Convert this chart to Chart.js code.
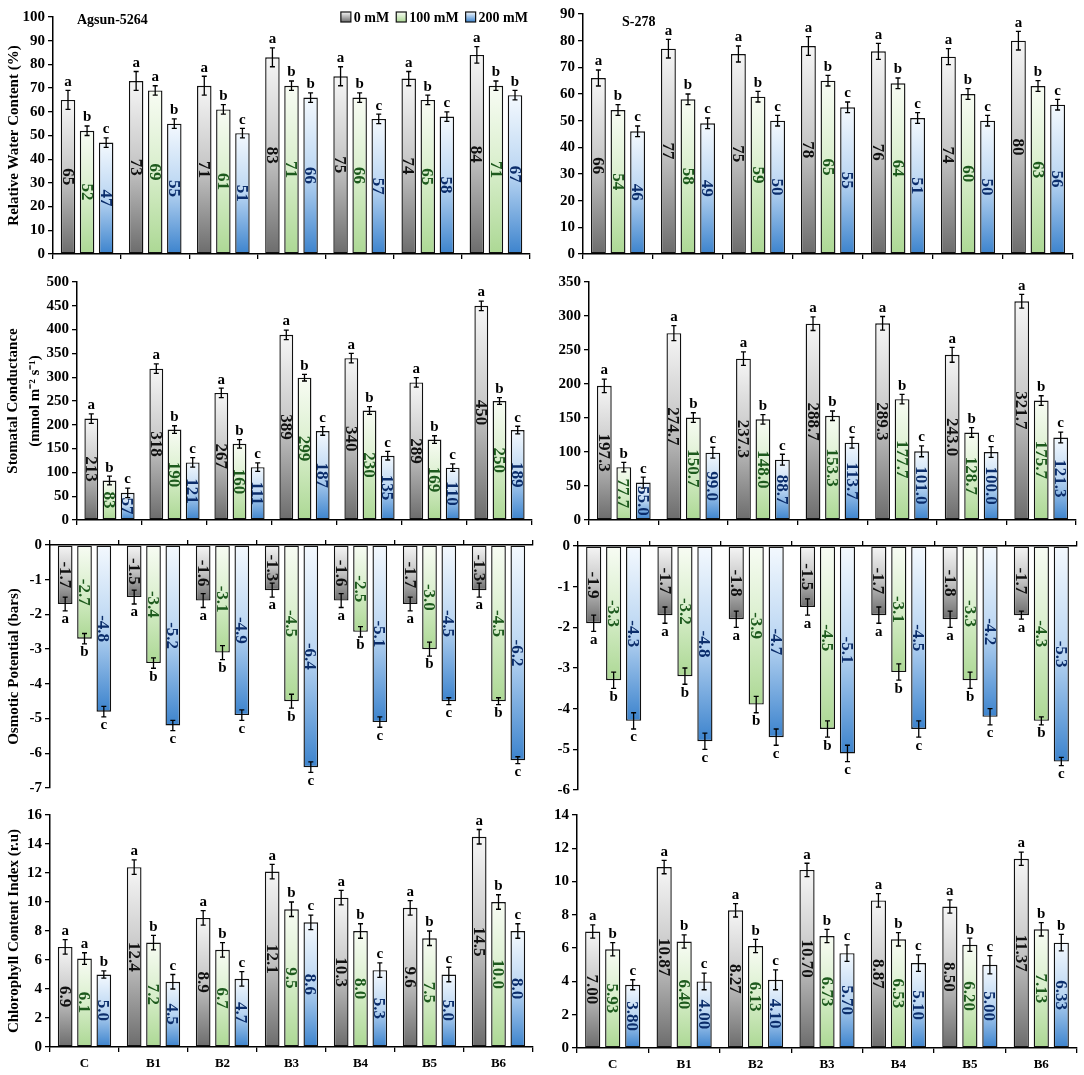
<!DOCTYPE html>
<html><head><meta charset="utf-8">
<script src="https://cdn.jsdelivr.net/npm/chart.js@4.4.1/dist/chart.umd.min.js"></script>
<style>
html,body{margin:0;padding:0;background:#fff;}
body{width:1084px;height:1075px;position:relative;overflow:hidden;}
.box{position:absolute;}
</style></head><body>
<script>
// ---------- DATA ----------
const categories = ['C','B1','B2','B3','B4','B5','B6'];
const seriesNames = ['0 mM','100 mM','200 mM'];

// Relative Water Content (%) - Agsun-5264
const rwcA0 = [65,73,71,83,75,74,84];
const rwcA100 = [52,69,61,71,66,65,71];
const rwcA200 = [47,55,51,66,57,58,67];
const rwcAErr0 = [4,4,4,4,4,3,3.5];
const rwcAErr100 = [2,2,2,2,2,2,2];
const rwcAErr200 = [2,2,2,2,2,2,2];
const rwcALetters = ['abc','aab','abc','abb','abc','abc','abb'];

// Relative Water Content (%) - S-278
const rwcS0 = [66,77,75,78,76,74,80];
const rwcS100 = [54,58,59,65,64,60,63];
const rwcS200 = [46,49,50,55,51,50,56];
const rwcSErr0 = [3,3.5,3,3.5,3,3,3.5];
const rwcSErr100 = [2,2,2,2,2,2,2];
const rwcSErr200 = [2,2,2,2,2,2,2];
const rwcSLetters = ['abc','abc','abc','abc','abc','abc','abc'];

// Stomatal Conductance - Agsun-5264
const scA0 = [213,318,267,389,340,289,450];
const scA100 = [83,190,160,299,230,169,250];
const scA200 = [57,121,111,187,135,110,189];
const scAErr0 = [10,10,10,10,10,10,10];
const scAErr100 = [9,8,9,7,8,8,7];
const scAErr200 = [10,10,9,9,9,8,8];
const scALetters = ['abc','abc','abc','abc','abc','abc','abc'];

// Stomatal Conductance - S-278
const scS0 = [197.3,274.7,237.3,288.7,289.3,243.0,321.7];
const scS100 = [77.7,150.7,148.0,153.3,177.7,128.7,175.7];
const scS200 = [55.0,99.0,88.7,113.7,101.0,100.0,121.3];
const scSErr0 = [10,11,10,10,10,11,10];
const scSErr100 = [7,7,7,7,7,7,7];
const scSErr200 = [8,8,8,8,8,8,8];
const scSLetters = ['abc','abc','abc','abc','abc','abc','abc'];

// Osmotic Potential (bars) - Agsun-5264
const opA0 = [-1.7,-1.5,-1.6,-1.3,-1.6,-1.7,-1.3];
const opA100 = [-2.7,-3.4,-3.1,-4.5,-2.5,-3.0,-4.5];
const opA200 = [-4.8,-5.2,-4.9,-6.4,-5.1,-4.5,-6.2];
const opAErr0 = [0.2,0.2,0.2,0.2,0.2,0.2,0.2];
const opAErr100 = [0.15,0.15,0.2,0.2,0.15,0.2,0.1];
const opAErr200 = [0.15,0.15,0.15,0.15,0.15,0.1,0.1];
const opALetters = ['abc','abc','abc','abc','abc','abc','abc'];

// Osmotic Potential (bars) - S-278
const opS0 = [-1.9,-1.7,-1.8,-1.5,-1.7,-1.8,-1.7];
const opS100 = [-3.3,-3.2,-3.9,-4.5,-3.1,-3.3,-4.3];
const opS200 = [-4.3,-4.8,-4.7,-5.1,-4.5,-4.2,-5.3];
const opSErr0 = [0.2,0.2,0.2,0.2,0.2,0.2,0.1];
const opSErr100 = [0.2,0.2,0.2,0.2,0.2,0.2,0.1];
const opSErr200 = [0.2,0.2,0.2,0.2,0.2,0.2,0.1];
const opSLetters = ['abc','abc','abc','abc','abc','abc','abc'];

// Chlorophyll Content Index (r.u) - Agsun-5264
const cciA0 = [6.9,12.4,8.9,12.1,10.3,9.6,14.5];
const cciA100 = [6.1,7.2,6.7,9.5,8.0,7.5,10.0];
const cciA200 = [5.0,4.5,4.7,8.6,5.3,5.0,8.0];
const cciAErr0 = [0.5,0.5,0.5,0.5,0.5,0.5,0.5];
const cciAErr100 = [0.4,0.5,0.5,0.5,0.5,0.5,0.5];
const cciAErr200 = [0.25,0.5,0.5,0.5,0.5,0.5,0.5];
const cciALetters = ['aab','abc','abc','abc','abc','abc','abc'];

// Chlorophyll Content Index (r.u) - S-278
const cciS0 = [7.00,10.87,8.27,10.70,8.87,8.50,11.37];
const cciS100 = [5.93,6.40,6.13,6.73,6.53,6.20,7.13];
const cciS200 = [3.80,4.00,4.10,5.70,5.10,5.00,6.33];
const cciSErr0 = [0.4,0.4,0.4,0.4,0.4,0.4,0.4];
const cciSErr100 = [0.4,0.4,0.4,0.4,0.4,0.4,0.4];
const cciSErr200 = [0.3,0.5,0.6,0.5,0.5,0.55,0.5];
const cciSLetters = ['abc','abc','abc','abc','abc','abc','abb'];

// ---------- STYLE ----------
const FAMILY = '"Liberation Serif", "Times New Roman", serif';
const gradStops = [['#f6f6f6','#c4c4c4','#6c6c6c'], ['#f8fcf4','#d8eecb','#acd894'], ['#f4f9fe','#b9d5f2','#3c83cd']];
const labelColors = ['#111111', '#1d5a1d', '#0b2d6b'];

function gradFill(k) {
  return (ctx) => {
    const ch = ctx.chart;
    if (!ch.chartArea || ctx.type !== 'data') return gradStops[k][2];
    const y = ch.scales.y; const v = ctx.raw;
    const a = y.getPixelForValue(Math.max(v, 0));
    const b = y.getPixelForValue(Math.min(v, 0));
    const g = ch.ctx.createLinearGradient(0, a, 0, b);
    g.addColorStop(0, gradStops[k][0]);
    g.addColorStop(0.5, gradStops[k][1]);
    g.addColorStop(1, gradStops[k][2]);
    return g;
  };
}

const decor = {
  id: 'decor',
  afterDatasetsDraw(chart, args, opts) {
    const c = chart.ctx, y = chart.scales.y;
    chart.data.datasets.forEach((ds, k) => {
      const meta = chart.getDatasetMeta(k);
      meta.data.forEach((bar, i) => {
        const v = ds.data[i], e = opts.errors[k][i];
        const p1 = y.getPixelForValue(v + e), p2 = y.getPixelForValue(v - e);
        const top = Math.min(p1, p2), bot = Math.max(p1, p2);
        c.save();
        c.strokeStyle = '#000'; c.lineWidth = 1.3;
        c.beginPath();
        c.moveTo(bar.x, top); c.lineTo(bar.x, bot);
        c.moveTo(bar.x - 2.5, top); c.lineTo(bar.x + 2.5, top);
        c.moveTo(bar.x - 2.5, bot); c.lineTo(bar.x + 2.5, bot);
        c.stroke();
        const letter = opts.letters[i][k];
        c.fillStyle = '#000'; c.font = 'bold 15px ' + FAMILY; c.textAlign = 'center';
        if (v >= 0) { c.textBaseline = 'bottom'; c.fillText(letter, bar.x, top - 1); }
        else { c.textBaseline = 'top'; c.fillText(letter, bar.x, bot + 1); }
        const mid = (bar.y + bar.base) / 2;
        c.translate(bar.x, mid); c.rotate(Math.PI / 2);
        c.fillStyle = labelColors[k]; c.font = 'bold 17px ' + FAMILY;
        c.textAlign = 'center'; c.textBaseline = 'middle';
        c.fillText(v.toFixed(opts.decimals), 0, 1);
        c.restore();
      });
    });
  },
  afterDraw(chart, args, opts) {
    const c = chart.ctx, ca = chart.chartArea;
    if (opts.title) {
      c.save(); c.font = 'bold 14px ' + FAMILY; c.fillStyle = '#000';
      c.textAlign = 'left'; c.textBaseline = 'middle';
      c.fillText(opts.title.text, ca.left + opts.title.dx, ca.top + opts.title.dy);
      c.restore();
    }
    if (opts.legend) {
      c.save(); c.font = 'bold 14px ' + FAMILY;
      const box = 10, gap = 3, sep = 7;
      const widths = seriesNames.map(s => c.measureText(s).width);
      let total = widths.reduce((a, b) => a + b, 0) + seriesNames.length * (box + gap) + sep * (seriesNames.length - 1);
      let x = ca.right - 2 - total; const yc = ca.top;
      seriesNames.forEach((s, k) => {
        const g = c.createLinearGradient(0, yc - box / 2, 0, yc + box / 2);
        g.addColorStop(0, gradStops[k][0]); g.addColorStop(1, gradStops[k][2]);
        c.fillStyle = g; c.fillRect(x, yc - box / 2, box, box);
        c.strokeStyle = '#111'; c.lineWidth = 1.2; c.strokeRect(x, yc - box / 2, box, box);
        c.fillStyle = '#000'; c.textAlign = 'left'; c.textBaseline = 'middle';
        c.fillText(s, x + box + gap, yc + 1);
        x += box + gap + widths[k] + sep;
      });
      c.restore();
    }
  }
};

// ---------- PANELS ----------
const panels = [
  {cl:0, pl:53, pr:530, pt:15, pb:257, min:0, max:100, step:10, dec:0,
   values:[rwcA0,rwcA100,rwcA200], errors:[rwcAErr0,rwcAErr100,rwcAErr200], letters:rwcALetters,
   title:'Relative Water Content (%)', head:{text:'Agsun-5264', dx:24, dy:3}, legend:true},
  {cl:540, pl:583, pr:1073, pt:12, pb:257, min:0, max:90, step:10, dec:0,
   values:[rwcS0,rwcS100,rwcS200], errors:[rwcSErr0,rwcSErr100,rwcSErr200], letters:rwcSLetters,
   head:{text:'S-278', dx:39, dy:8}},
  {cl:0, pl:77, pr:532, pt:280, pb:523, min:0, max:500, step:50, dec:0,
   values:[scA0,scA100,scA200], errors:[scAErr0,scAErr100,scAErr200], letters:scALetters,
   title:['Stomatal Conductance','(mmol m\u207B\u00B2 s\u207B\u00B9)'], titleLH:1.45, titlePad:2},
  {cl:540, pl:589, pr:1076, pt:280, pb:523, min:0, max:350, step:50, dec:1,
   values:[scS0,scS100,scS200], errors:[scSErr0,scSErr100,scSErr200], letters:scSLetters},
  {cl:0, pl:50, pr:533, pt:545, pb:788, min:-7, max:0, step:1, dec:1, xTop:true,
   values:[opA0,opA100,opA200], errors:[opAErr0,opAErr100,opAErr200], letters:opALetters,
   title:'Osmotic Potential (bars)'},
  {cl:540, pl:578, pr:1077, pt:546, pb:790, min:-6, max:0, step:1, dec:1, xTop:true,
   values:[opS0,opS100,opS200], errors:[opSErr0,opSErr100,opSErr200], letters:opSLetters},
  {cl:0, pl:50, pr:533, pt:813, pb:1047, min:0, max:16, step:2, dec:1, xLabels:true,
   values:[cciA0,cciA100,cciA200], errors:[cciAErr0,cciAErr100,cciAErr200], letters:cciALetters,
   title:'Chlorophyll Content Index (r.u)'},
  {cl:540, pl:577, pr:1077, pt:813, pb:1048, min:0, max:14, step:2, dec:2, xLabels:true,
   values:[cciS0,cciS100,cciS200], errors:[cciSErr0,cciSErr100,cciSErr200], letters:cciSLetters}
];

function makePanel(p) {
  const PADT = 10, PADR = 6;
  const PADB = p.xTop ? 12 : 2;
  const XH = p.xLabels ? 26 : 7;
  const canvasTop = p.xTop ? p.pt - PADT - XH : p.pt - PADT;
  const height = PADT + XH + (p.pb - p.pt) + PADB;
  const width = p.pr + PADR - p.cl;
  const div = document.createElement('div'); div.className = 'box';
  Object.assign(div.style, {left: p.cl + 'px', top: canvasTop + 'px', width: width + 'px', height: height + 'px'});
  const cv = document.createElement('canvas'); div.appendChild(cv); document.body.appendChild(div);
  const yAxisW = p.pl - p.cl;
  new Chart(cv, {
    type: 'bar',
    data: {
      labels: categories,
      datasets: p.values.map((vals, k) => ({
        label: seriesNames[k], data: vals, backgroundColor: gradFill(k),
        borderColor: '#111', borderWidth: 1.4, borderSkipped: false,
        barPercentage: 0.76, categoryPercentage: 0.84
      }))
    },
    options: {
      responsive: true, maintainAspectRatio: false, animation: false,
      layout: {padding: {top: PADT, right: PADR, bottom: PADB, left: 0}},
      plugins: {
        legend: {display: false}, tooltip: {enabled: false},
        decor: {errors: p.errors, letters: p.letters, decimals: p.dec, title: p.head || null, legend: !!p.legend}
      },
      scales: {
        x: {
          position: p.xTop ? 'top' : 'bottom', offset: true,
          grid: {offset: true, drawOnChartArea: false, drawTicks: true, tickLength: 5, color: '#000', lineWidth: 1.3},
          border: {color: '#000', width: 1.5},
          ticks: {display: !!p.xLabels, color: '#000', font: {family: FAMILY, size: 13, weight: 'bold'}, padding: 4, maxRotation: 0, autoSkip: false},
          afterFit: s => { s.height = XH; }
        },
        y: {
          min: p.min, max: p.max,
          ticks: {stepSize: p.step, color: '#000', font: {family: FAMILY, size: 15, weight: 'bold'}, padding: 3},
          grid: {drawOnChartArea: false, drawTicks: true, tickLength: 5, color: '#000', lineWidth: 1.3},
          border: {color: '#000', width: 1.5},
          title: p.title ? {display: true, text: p.title, color: '#000',
            font: {family: FAMILY, size: 15, weight: 'bold', lineHeight: p.titleLH || 1.2},
            padding: {top: p.titlePad != null ? p.titlePad : 5, bottom: 0}} : {display: false},
          afterFit: s => { s.width = yAxisW; }
        }
      }
    },
    plugins: [decor]
  });
}
panels.forEach(makePanel);
</script>
</body></html>
